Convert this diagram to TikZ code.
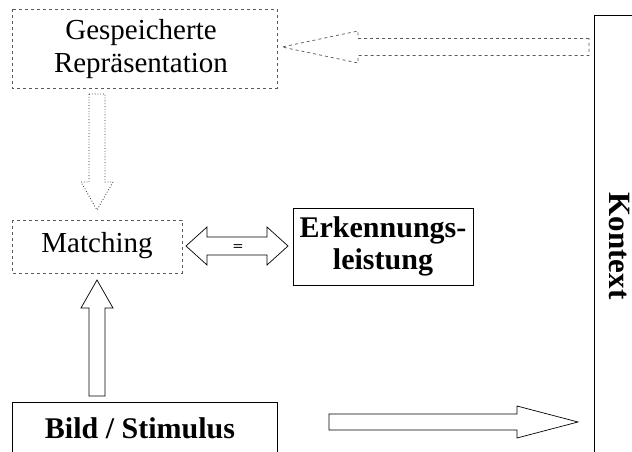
\documentclass[tikz,border=0pt]{standalone}
\usepackage{fontspec}
\setmainfont{Liberation Serif}
\begin{document}
\begin{tikzpicture}[x=1pt,y=-1pt,
  dbox/.style={draw=black!65,dashed,line width=0.7pt},
  sbox/.style={draw=black,line width=0.8pt},
  txt/.style={font=\fontsize{29}{33}\selectfont,align=center,inner sep=0pt},
  btxt/.style={font=\fontsize{30}{32}\selectfont\bfseries,align=center,inner sep=0pt},
  darrow/.style={draw=black!65,dashed,line width=0.7pt,fill=white},
  dotarrow/.style={draw=black!85,dotted,line width=0.8pt,fill=white},
  sarrow/.style={draw=black,line width=0.7pt,fill=white,line join=miter}
]
\useasboundingbox (0,0) rectangle (632,452);
\clip (0,0) rectangle (632,452);
\fill[white] (0,0) rectangle (632,452);

% boxes
\draw[dbox] (12,9) rectangle (277,88);
\node[txt] (gesp) at (141,49) {Gespeicherte\\Repräsentation};

\draw[dbox] (12,220) rectangle (182,273);
\node[txt] (match) at (97,246) {Matching};

\draw[sbox] (293,208) rectangle (473,285);
\node[btxt] (erk) at (383,246.5) {Erkennungs-\\leistung};

\draw[sbox] (12,402) rectangle (277,470);
\node[btxt] (bild) at (140,428) {Bild / Stimulus};

\draw[sbox] (594,470) -- (594,15) -- (650,15);
\node[btxt,font=\fontsize{31}{32}\selectfont\bfseries,rotate=-90] (kontext) at (619,246) {Kontext};

% left dashed arrow (Kontext -> Gespeicherte)
\draw[darrow] (589,38.5) -- (358,38.5) -- (358,31) -- (282,47) -- (358,63) -- (358,55.5) -- (589,55.5) -- cycle;

% down dotted arrow (Gespeicherte -> Matching)
\draw[dotarrow] (89,94) -- (89,182) -- (81,182) -- (97,210) -- (113,182) -- (105,182) -- (105,94) -- cycle;

% up arrow (Bild -> Matching)
\draw[sarrow] (89,396) -- (89,308) -- (81,308) -- (97,280) -- (113,308) -- (105,308) -- (105,396) -- cycle;

% double arrow (Matching <-> Erkennungsleistung)
\draw[sarrow] (186,246) -- (207,227) -- (207,237) -- (267,237) -- (267,227) -- (288,246)
  -- (267,265) -- (267,255) -- (207,255) -- (207,265) -- cycle;
\node[font=\sffamily\bfseries\fontsize{12}{12}\selectfont,inner sep=0pt] (eq) at (238,247.5) {=};

% right arrow (Bild -> Kontext)
\draw[sarrow] (329,414) -- (517,414) -- (517,406) -- (578,422) -- (517,438) -- (517,430) -- (329,430) -- cycle;
\end{tikzpicture}
\end{document}
